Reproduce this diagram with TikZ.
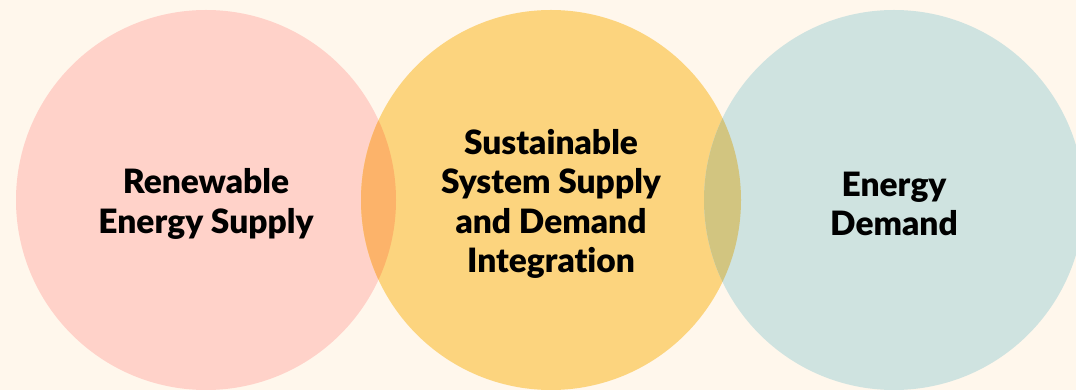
\documentclass[tikz,border=0pt]{standalone}
\usepackage{fontspec}
\setmainfont{Lato}[BoldFont={Lato Black},Ligatures=NoCommon]
\definecolor{bgcream}{HTML}{FFF7EC}
\definecolor{supplypink}{HTML}{FFD2C9}
\definecolor{coreyellow}{HTML}{FCD47E}
\definecolor{demandteal}{HTML}{CFE3E0}
\definecolor{overlapleft}{HTML}{FCB36A}
\definecolor{overlapright}{HTML}{D2C580}
\begin{document}
\begin{tikzpicture}[x=1pt,y=1pt,
  label/.style={align=center,font=\fontsize{33.5}{39.5}\selectfont\bfseries,text=black}]
\useasboundingbox (0,0) rectangle (1076,390);
\fill[bgcream] (0,0) rectangle (1076,390);
% three sets
\fill[supplypink] (206,190) circle (190);
\fill[coreyellow] (551,190) circle (190);
\fill[demandteal] (894,190) circle (190);
% pairwise overlaps
\begin{scope}
  \clip (206,190) circle (190);
  \fill[overlapleft] (551,190) circle (190);
\end{scope}
\begin{scope}
  \clip (551,190) circle (190);
  \fill[overlapright] (894,190) circle (190);
\end{scope}
\node[label] (supply) at (206,186) {Renewable\\Energy Supply};
\node[label] (core) at (551,186) {Sustainable\\System Supply\\and Demand\\Integration};
\node[label] (demand) at (894,186) {Energy\\Demand};
\end{tikzpicture}
\end{document}
